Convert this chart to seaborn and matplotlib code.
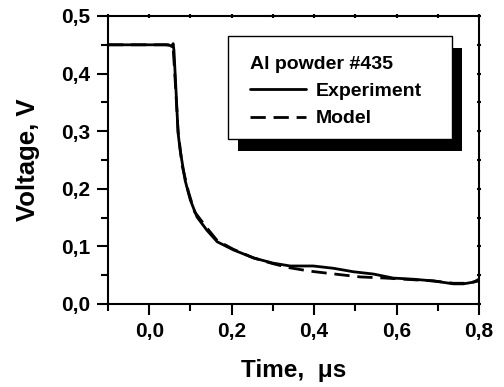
import matplotlib
matplotlib.use("Agg")
import matplotlib.pyplot as plt
import seaborn as sns
import pandas as pd
from matplotlib.patches import Rectangle
from matplotlib.ticker import MultipleLocator, FixedLocator, FixedFormatter

# ---- data ----
exp_t = [-0.1, 0.0, 0.040, 0.050, 0.055, 0.058, 0.060, 0.065, 0.070, 0.075, 0.087,
         0.095, 0.100, 0.116, 0.140, 0.165, 0.204, 0.253, 0.300, 0.342, 0.398,
         0.447, 0.495, 0.544, 0.592, 0.641, 0.690, 0.738, 0.762, 0.787, 0.800]
exp_v = [0.450, 0.450, 0.450, 0.449, 0.447, 0.452, 0.440, 0.370, 0.297, 0.267, 0.215,
         0.193, 0.180, 0.151, 0.128, 0.108, 0.094, 0.080, 0.071, 0.066, 0.066,
         0.062, 0.056, 0.052, 0.045, 0.043, 0.040, 0.035, 0.035, 0.038, 0.043]

mod_t = [-0.1, 0.050, 0.058, 0.062, 0.070, 0.080, 0.095, 0.110, 0.140, 0.165, 0.204,
         0.253, 0.300, 0.340, 0.390, 0.450, 0.512, 0.573, 0.620, 0.690, 0.738, 0.770, 0.800]
mod_v = [0.450, 0.450, 0.445, 0.400, 0.300, 0.240, 0.195, 0.160, 0.132, 0.110, 0.095,
         0.080, 0.070, 0.063, 0.057, 0.052, 0.047, 0.045, 0.043, 0.040, 0.036, 0.036, 0.040]

x_ticks = [0.0, 0.2, 0.4, 0.6, 0.8]
x_labels = ["0,0", "0,2", "0,4", "0,6", "0,8"]
y_ticks = [0.0, 0.1, 0.2, 0.3, 0.4, 0.5]
y_labels = ["0,0", "0,1", "0,2", "0,3", "0,4", "0,5"]
legend_title = "Al powder #435"
series_names = ["Experiment", "Model"]

sns.set_style("ticks")
plt.rcParams['font.family'] = ['Liberation Sans', 'DejaVu Sans']
plt.rcParams['font.weight'] = 'bold'
for k in ['text.color', 'axes.labelcolor', 'xtick.color', 'ytick.color', 'axes.edgecolor']:
    plt.rcParams[k] = 'black'

fig = plt.figure(figsize=(5.04, 3.87), dpi=100)
ax = fig.add_axes([108/504, 1-304/387, (479-108)/504, (304-16)/387])

df_e = pd.DataFrame({"t": exp_t, "v": exp_v})
df_m = pd.DataFrame({"t": mod_t, "v": mod_v})
sns.lineplot(data=df_m, x="t", y="v", ax=ax, color="black", lw=2.0,
             linestyle=(0, (5.5, 2.8)), sort=False, label=series_names[1], errorbar=None)
sns.lineplot(data=df_e, x="t", y="v", ax=ax, color="black", lw=2.0,
             sort=False, label=series_names[0], errorbar=None)

ax.set_xlim(-0.1, 0.8)
ax.set_ylim(0.0, 0.5)
ax.xaxis.set_major_locator(FixedLocator(x_ticks))
ax.xaxis.set_major_formatter(FixedFormatter(x_labels))
ax.yaxis.set_major_locator(FixedLocator(y_ticks))
ax.yaxis.set_major_formatter(FixedFormatter(y_labels))
ax.xaxis.set_minor_locator(MultipleLocator(0.1))
ax.yaxis.set_minor_locator(MultipleLocator(0.05))

for s in ax.spines.values():
    s.set_visible(True)
    s.set_linewidth(1.5)
    s.set_color("black")

ax.tick_params(which='major', direction='out', length=8, width=1.5, labelsize=15,
               colors='black', pad=5, top=False, right=False)
ax.tick_params(which='minor', direction='out', length=5, width=1.5,
               top=False, right=False)
for lab in ax.get_xticklabels() + ax.get_yticklabels():
    lab.set_fontweight('bold')

# small ticks on top and right
ax2 = ax.secondary_xaxis('top')
ax2.set_xticks([-0.1, 0.0, 0.1, 0.2, 0.3, 0.4, 0.5, 0.6, 0.7, 0.8])
ax2.tick_params(direction='inout', length=3, width=1.5, labeltop=False)
ax2.spines['top'].set_visible(False)
ax3 = ax.secondary_yaxis('right')
ax3.set_yticks([0.05 * i for i in range(11)])
ax3.tick_params(direction='inout', length=3, width=1.5, labelright=False)
ax3.spines['right'].set_visible(False)

ax.set_xlabel("Time,  \u03bcs", fontsize=17.5, fontweight='bold', labelpad=13)
ax.set_ylabel("Voltage, V", fontsize=18.5, fontweight='bold', labelpad=15)

# legend box with drop shadow (drawn as patches in axes fraction)
box_x, box_y, box_w, box_h = 0.3235, 0.5729, 0.6038, 0.3576
sh_dx, sh_dy = 10 / 371, -12 / 288
ax.add_patch(Rectangle((box_x + sh_dx, box_y + sh_dy), box_w, box_h, transform=ax.transAxes,
                       facecolor='black', edgecolor='none', zorder=4))
ax.add_patch(Rectangle((box_x, box_y), box_w, box_h, transform=ax.transAxes,
                       facecolor='white', edgecolor='black', lw=1.0, zorder=4.5))

handles, labels = ax.get_legend_handles_labels()
order = [labels.index(n) for n in series_names]
leg = ax.legend([handles[i] for i in order], [labels[i] for i in order],
                title=legend_title, loc='upper left', bbox_to_anchor=(0.383, 0.862),
                frameon=False,
                prop={'size': 14, 'weight': 'bold'},
                title_fontproperties={'size': 14, 'weight': 'bold'},
                alignment='left', handlelength=2.88, handletextpad=0.5,
                borderpad=0, labelspacing=0.5, borderaxespad=0)
leg.set_zorder(5)

fig.savefig("out.png", dpi=100)
